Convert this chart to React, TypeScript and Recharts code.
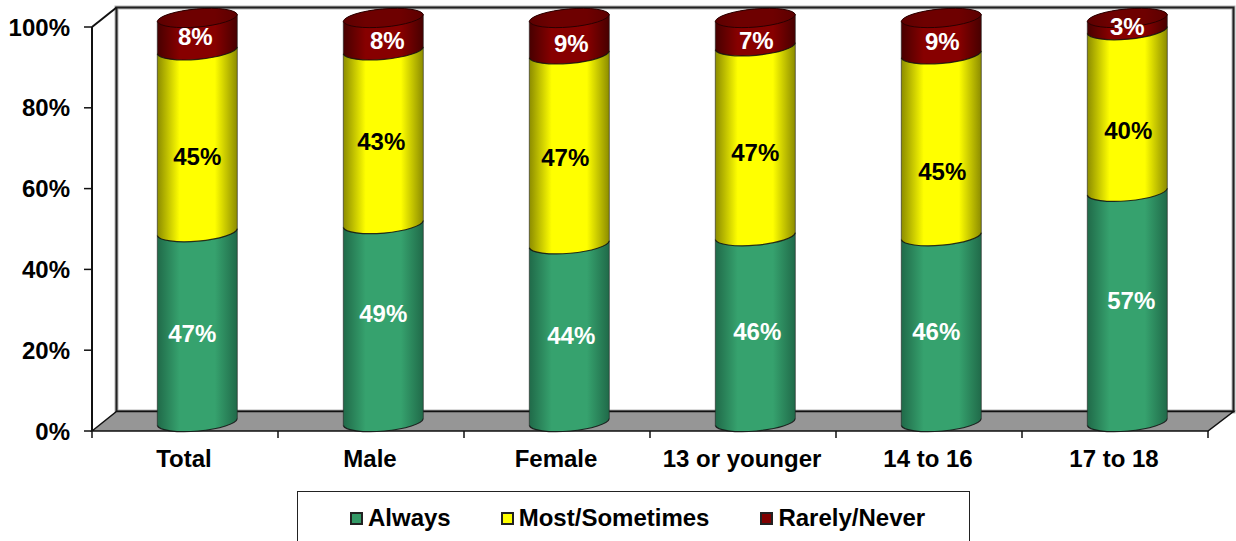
import React from 'react';
import { BarChart, Bar, XAxis, YAxis, Legend, LabelList } from 'recharts';

const categories = ['Total', 'Male', 'Female', '13 or younger', '14 to 16', '17 to 18'];
const always = [47, 49, 44, 46, 46, 57];
const mostSometimes = [45, 43, 47, 47, 45, 40];
const rarelyNever = [8, 8, 9, 7, 9, 3];
const yTicks = [0, 20, 40, 60, 80, 100];

const rows = categories.map((name, i) => ({
  name,
  always: always[i],
  most: mostSometimes[i],
  rarely: rarelyNever[i],
}));

// the labels were placed by hand in the original, so they sit off centre
const labelNudgeY: Record<string, number[]> = {
  always: [7, -9, 3, 3, 3, -5],
  most: [16, 5, 9, 12, 27, 21],
  rarely: [3, 7, 8, 9, 6, 3],
};
const labelNudgeX: Record<string, number[]> = {
  always: [-5, 0, 2, 2, -5, 4],
  most: [0, -2, -4, 0, 1, 1],
  rarely: [-2, 4, 2, 1, 1, 0],
};

const FONT = '"Liberation Sans", Arial, sans-serif';
const LEFT = 92;
const RIGHT = 1208;
const TOP = 27;
const BOTTOM = 431;
const DEPTH_X = 24.5;
const DEPTH_Y = 19.5;
const SHIFT_X = 12.3;
const SHIFT_Y = -9;
const LABEL_SHIFT_Y = -10;
const TILT = 3.5;

const flatColor: Record<string, string> = {
  always: '#339966',
  most: '#ffff00',
  rarely: '#800000',
};

const Gradient = ({ id, edge, mid }: { id: string; edge: string; mid: string }) => (
  <linearGradient id={id} x1="0" y1="0" x2="1" y2="0">
    <stop offset="0%" stopColor={edge} />
    <stop offset="28%" stopColor={mid} />
    <stop offset="72%" stopColor={mid} />
    <stop offset="100%" stopColor={edge} />
  </linearGradient>
);

const Frame = () => {
  const step = (RIGHT - LEFT) / categories.length;
  return (
    <g>
      <defs>
        <Gradient id="cyl-always" edge="#206a49" mid="#36a26e" />
        <Gradient id="cyl-most" edge="#8c8c00" mid="#ffff00" />
        <Gradient id="cyl-rarely" edge="#470000" mid="#870000" />
        <Gradient id="cyl-top" edge="#5c0000" mid="#6e0000" />
      </defs>
      <rect
        x={LEFT + DEPTH_X}
        y={TOP - DEPTH_Y}
        width={RIGHT - LEFT + 1}
        height={BOTTOM - TOP}
        fill="#fff"
        stroke="#b5b5b5"
        strokeWidth={4}
      />
      <rect
        x={LEFT + DEPTH_X}
        y={TOP - DEPTH_Y}
        width={RIGHT - LEFT + 1}
        height={BOTTOM - TOP}
        fill="none"
        stroke="#222"
        strokeWidth={2}
      />
      <polygon
        points={`${LEFT},${BOTTOM} ${LEFT + DEPTH_X},${BOTTOM - DEPTH_Y} ${RIGHT + DEPTH_X + 1},${BOTTOM - DEPTH_Y} ${RIGHT},${BOTTOM}`}
        fill="#969696"
        stroke="#111"
        strokeWidth={1.5}
      />
      <line x1={LEFT} y1={TOP} x2={LEFT + DEPTH_X} y2={TOP - DEPTH_Y} stroke="#111" strokeWidth={2} />
      {categories.map((c, i) => (
        <line
          key={c}
          x1={LEFT + step * i}
          x2={LEFT + step * i}
          y1={BOTTOM}
          y2={BOTTOM + 7}
          stroke="#111"
          strokeWidth={1.5}
        />
      ))}
      <line x1={RIGHT} x2={RIGHT} y1={BOTTOM} y2={BOTTOM + 7} stroke="#111" strokeWidth={1.5} />
    </g>
  );
};

const Cylinder = (props: any) => {
  const { x, y, width, height, dataKey } = props;
  const l = x + SHIFT_X;
  const r = l + width;
  const t = y + SHIFT_Y;
  const b = t + height;
  const rx = width / 2 + 0.2;
  const ry = 9.5;
  const body =
    `M${l},${t + TILT} A${rx},${ry} -5 0 1 ${r},${t - TILT} L${r},${b - TILT} ` +
    `A${rx},${ry} -5 0 1 ${l},${b + TILT} Z`;
  const seam = `M${r},${b - TILT} A${rx},${ry} -5 0 1 ${l},${b + TILT}`;
  return (
    <g>
      <path d={body} fill={`url(#cyl-${dataKey})`} />
      <path d={seam} fill="none" stroke="#111" strokeWidth={1.2} opacity={0.85} />
      <line x1={l} x2={l} y1={t + TILT} y2={b + TILT} stroke="#222" strokeWidth={1} opacity={0.6} />
      <line x1={r} x2={r} y1={t - TILT} y2={b - TILT} stroke="#222" strokeWidth={1} opacity={0.6} />
      {dataKey === 'rarely' && (
        <path
          d={`M${l},${t + TILT} A${rx},${ry} -5 0 1 ${r},${t - TILT} A${rx},${ry} -5 0 1 ${l},${t + TILT} Z`}
          fill="url(#cyl-top)"
          stroke="#2a0000"
          strokeWidth={1}
        />
      )}
    </g>
  );
};

const segmentLabel = (key: string, color: string) => (props: any) => {
  const { x, y, width, height, value, index } = props;
  return (
    <text
      x={x + width / 2 + SHIFT_X + labelNudgeX[key][index]}
      y={y + height / 2 + LABEL_SHIFT_Y + labelNudgeY[key][index]}
      textAnchor="middle"
      dominantBaseline="central"
      fill={color}
      fontFamily={FONT}
      fontWeight="bold"
      fontSize={24}
    >
      {value}%
    </text>
  );
};

const LegendBox = ({ payload }: any) => {
  const gaps = [0, 50, 51];
  return (
    <div
      style={{
        width: 673,
        height: 60,
        boxSizing: 'border-box',
        border: '1.5px solid #222',
        background: '#fff',
        display: 'flex',
        paddingLeft: 52,
        paddingTop: 12,
        fontFamily: FONT,
        fontWeight: 'bold',
        fontSize: 24,
        color: '#000',
      }}
    >
      {(payload || []).map((p: any, i: number) => (
        <div key={p.value} style={{ display: 'flex', alignItems: 'center', marginLeft: gaps[i], height: 28 }}>
          <span
            style={{
              width: 13,
              height: 13,
              boxSizing: 'border-box',
              border: '2px solid #222',
              background: flatColor[p.dataKey],
              marginRight: 5,
            }}
          />
          {p.value}
        </div>
      ))}
    </div>
  );
};

export default function App() {
  const tickStyle = { fill: '#000', fontFamily: FONT, fontWeight: 'bold', fontSize: 24 };
  return (
    <div style={{ position: 'absolute', left: 0, top: 0, width: 1236, height: 541, overflow: 'hidden' }}>
      <BarChart
        width={1236}
        height={541}
        data={rows}
        margin={{ top: TOP, right: 1236 - RIGHT, bottom: 0, left: 0 }}
        barSize={80}
      >
        <Frame />
        <XAxis
          dataKey="name"
          height={541 - BOTTOM}
          interval={0}
          axisLine={false}
          tickLine={false}
          tick={{ ...tickStyle, dx: -1 }}
          tickMargin={13}
        />
        <YAxis
          width={LEFT}
          domain={[0, 100]}
          ticks={yTicks}
          tickFormatter={(v: number) => `${v}%`}
          tick={tickStyle}
          tickSize={8}
          tickMargin={14}
          tickLine={{ stroke: '#111', strokeWidth: 1.5 }}
          axisLine={{ stroke: '#111', strokeWidth: 2 }}
        />
        <Legend
          layout="horizontal"
          verticalAlign="middle"
          align="center"
          content={<LegendBox />}
          wrapperStyle={{ position: 'absolute', left: 297, top: 491, width: 673, bottom: 'auto' }}
        />
        <Bar dataKey="always" name="Always" stackId="a" fill="#339966" shape={<Cylinder dataKey="always" />} isAnimationActive={false}>
          <LabelList dataKey="always" content={segmentLabel('always', '#fff')} />
        </Bar>
        <Bar dataKey="most" name="Most/Sometimes" stackId="a" fill="#ffff00" shape={<Cylinder dataKey="most" />} isAnimationActive={false}>
          <LabelList dataKey="most" content={segmentLabel('most', '#000')} />
        </Bar>
        <Bar dataKey="rarely" name="Rarely/Never" stackId="a" fill="#800000" shape={<Cylinder dataKey="rarely" />} isAnimationActive={false}>
          <LabelList dataKey="rarely" content={segmentLabel('rarely', '#fff')} />
        </Bar>
      </BarChart>
    </div>
  );
}
